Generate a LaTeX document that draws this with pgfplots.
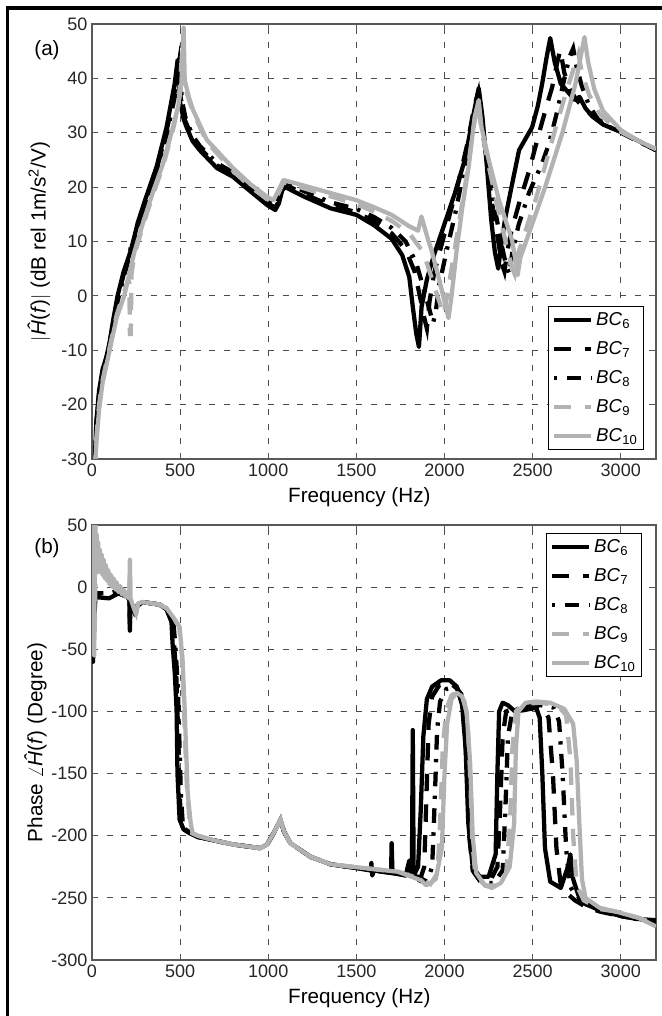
\documentclass[border=0pt]{standalone}
\usepackage{fontspec}
\setmainfont{Liberation Sans}
\usepackage{pgfplots}
\pgfplotsset{compat=1.18}

\definecolor{lgray}{gray}{0.70}
\definecolor{axgray}{gray}{0.35}

\pgfplotsset{
  frf/.style={
    scale only axis, width=423pt, height=326.25pt,
    xmin=0, xmax=3200,
    xtick={0,500,...,3000},
    xticklabels={0,500,1000,1500,2000,2500,3000},
    grid=major,
    major grid style={black!70, line width=0.7pt, dash pattern=on 4.5pt off 6.5pt},
    axis line style={axgray, line width=0.9pt},
    tick style={axgray, line width=0.8pt},
    tick align=inside,
    major tick length=4pt,
    tick label style={font=\fontsize{13.5}{15}\selectfont, text=black!85},
    label style={font=\fontsize{15.5}{17}\selectfont},
    xlabel={Frequency (Hz)},
    xlabel style={at={(axis description cs:0.474,-0.087)}, anchor=center},
    legend cell align=left,
    legend style={draw=black, line width=0.8pt, fill=white,
      font=\fontsize{14}{16}\selectfont, inner sep=2.5pt, row sep=6.5pt},
    legend image code/.code={\draw[#1] (0pt,0pt) -- (28pt,0pt);},
  },
  bc6/.style={black, line width=3.2pt, line join=round},
  bc7/.style={black, line width=3.2pt, dash pattern=on 13pt off 10pt},
  bc8/.style={black, line width=3.2pt, dash pattern=on 2.5pt off 7pt on 11pt off 7pt},
  bc9/.style={lgray, line width=3.2pt, dash pattern=on 13pt off 10pt},
  bc10/.style={lgray, line width=3.2pt, line join=round},
}

\begin{document}
\begin{tikzpicture}[x=0.75pt, y=0.75pt]
\useasboundingbox (0,0) rectangle (661,1016);
% outer frame
\draw[black, line width=2.3pt] (7.5,-2) -- (7.5,1008) -- (665,1008);

% ---------------- magnitude ----------------
\begin{axis}[frf, at={(69pt,417.75pt)}, anchor=south west,
  ymin=-30, ymax=50, ytick={-30,-20,...,50},
  yticklabels={-30,-20,-10,0,10,20,30,40,50},
  ylabel={$|$\textit{Ĥ}(\textit{f})$|$ (dB rel 1m/s\textsuperscript{2}/V)},
  ylabel style={at={(axis description cs:-0.094,0.5)}, anchor=center},
  legend style={at={(axis description cs:1,0)}, anchor=south east, xshift=-9pt, yshift=6.75pt},
]
\addplot[bc6] coordinates {
(15,-31) (25,-23) (40,-17.5) (60,-13.5) (80,-11.5) (100,-8.5) (120,-4.5) (145,0)
(180,4.5) (221,8.4) (260,13.5) (300,17.5) (366,23.7) (423,31) (469,39) (486,43.4)
(497,36) (520,32.5) (537,31) (570,28.5) (611,26.8) (709,23.5) (800,21.9) (900,19.2)
(994,16.7) (1040,15.8) (1060,17) (1080,19.5) (1097,20) (1200,18.3) (1354,16.1)
(1500,14.9) (1600,13) (1700,10.5) (1760,7.5) (1800,3.5) (1820,-2) (1840,-7)
(1855,-9.4) (1870,-2) (1900,3) (1940,7.5) (1983,11.6) (2059,18.9) (2115,25)
(2160,32.6) (2194,38.2) (2215,33) (2240,24) (2265,14) (2286,8) (2305,5) (2320,9)
(2343,14) (2380,20) (2423,26.8) (2497,31) (2530,35) (2554,39) (2580,44) (2600,47.4)
(2625,43) (2660,39) (2700,37.5) (2740,36) (2766,36.6) (2800,34.5) (2840,33)
(2900,31.5) (3011,30) (3100,28.5) (3200,26.8)};
\addlegendentry{\textit{BC}\textsubscript{6}}
\addplot[bc7] coordinates {
(15,-31) (25,-23.5) (40,-18) (60,-14) (80,-11.5) (100,-8.8) (120,-5) (145,-0.5)
(180,4) (221,8) (260,13) (300,17) (366,23.2) (423,30.3) (469,37.5) (492,42.5)
(503,36.5) (525,32.5) (570,29) (611,27.2) (709,24) (800,22.3) (900,19.7) (994,17.1)
(1040,16.2) (1060,17.4) (1082,20) (1100,20.4) (1200,18.8) (1354,16.6) (1500,15.4)
(1600,13.7) (1700,11.5) (1780,8.5) (1830,4.5) (1860,0) (1885,-4) (1900,-6)
(1915,-1) (1940,4) (1980,9) (2030,15) (2080,21) (2130,28) (2170,35) (2192,37.5)
(2212,32) (2240,25) (2270,17) (2300,11) (2325,6) (2340,4.5) (2355,8) (2380,12)
(2423,17) (2480,23) (2537,30) (2580,35) (2611,38.4) (2640,43) (2657,45.2) (2680,41)
(2710,38) (2750,36) (2800,34.3) (2840,33) (2900,31.6) (3011,30) (3100,28.4) (3200,26.8)};
\addlegendentry{\textit{BC}\textsubscript{7}}
\addplot[bc8] coordinates {
(15,-31.5) (25,-24) (40,-18.5) (60,-14.5) (80,-12) (100,-9.2) (120,-5.5) (145,-1)
(180,3.5) (215,7.5) (222,10) (230,9) (260,12.5) (300,16.5) (366,22.8) (423,29.6)
(469,36.5) (500,41.5) (510,36) (530,32.8) (570,29.5) (611,27.6) (709,24.4) (800,22.7)
(900,20.1) (994,17.5) (1040,16.6) (1060,17.8) (1084,20.4) (1100,20.8) (1200,19.3)
(1354,17.2) (1500,16) (1600,14.5) (1700,12.5) (1780,10) (1840,6) (1880,1.5)
(1910,-2) (1935,-5) (1950,-3) (1970,2) (2010,8) (2060,15) (2110,23) (2150,30)
(2180,35) (2192,36.5) (2212,31.5) (2240,25) (2280,17) (2320,10) (2350,5.5) (2368,4)
(2385,8) (2420,13) (2480,19) (2554,24.4) (2594,28.1) (2640,34) (2680,40) (2710,44)
(2730,45.5) (2750,42) (2780,38.5) (2820,35) (2870,32.5) (2950,30.8) (3050,29.2) (3200,26.8)};
\addlegendentry{\textit{BC}\textsubscript{8}}
\addplot[bc9] coordinates {
(15,-32.5) (25,-26) (40,-20) (60,-15.5) (100,-9.5) (140,-3.5) (180,0.5) (205,3)
(212,2.4) (215,-7) (220,-7) (224,4) (240,7.5) (290,13) (350,19) (400,23.5)
(459,30.5) (490,35) (512,45) (522,39) (550,36) (573,33.8) (651,28.3) (800,23)
(900,20) (994,17.8) (1029,17.2) (1060,19) (1086,20.9) (1200,19.8) (1354,18.3)
(1500,16.9) (1600,15.5) (1700,13.8) (1800,11.5) (1880,8) (1930,3) (1970,-1)
(1995,-3.5) (2015,0) (2050,7) (2090,15) (2130,23) (2165,31) (2190,35.5) (2210,30.5)
(2250,24) (2300,16.5) (2350,9.5) (2385,5) (2398,4) (2415,7.5) (2460,12) (2520,18)
(2580,25) (2640,32) (2700,38.5) (2740,42.5) (2760,44.5) (2780,41) (2820,37)
(2880,33.5) (2980,30.5) (3100,28.5) (3200,27)};
\addlegendentry{\textit{BC}\textsubscript{9}}
\addplot[bc10] coordinates {
(15,-33) (25,-27) (40,-21) (60,-16) (100,-10) (140,-4) (183,0) (240,8) (290,13.5)
(350,19.5) (400,24) (459,31) (490,35) (507,39) (520,49.3) (526,39.7) (550,36.5)
(573,34.2) (651,28.7) (800,23.5) (900,20.5) (994,18.2) (1029,17.6) (1060,19.5)
(1086,21.3) (1200,20.3) (1354,18.9) (1500,17.6) (1600,16.3) (1700,14.9) (1800,12.8)
(1850,12) (1869,14.6) (1907,10.3) (1926,8.4) (1970,3) (2000,-1) (2023,-4.1)
(2040,0) (2069,8.4) (2100,16) (2137,23.7) (2171,32.9) (2194,36) (2210,31)
(2251,25) (2309,17.6) (2383,10.3) (2400,7) (2415,3.8) (2430,7) (2480,11.6)
(2571,20) (2669,30) (2743,39) (2794,47.6) (2815,43) (2850,38) (2900,34) (3000,30.5)
(3100,28.5) (3200,27)};
\addlegendentry{\textit{BC}\textsubscript{10}}
\end{axis}
\node[font=\fontsize{15.5}{17}\selectfont] at (47,966) {(a)};

% ---------------- phase ----------------
\begin{axis}[frf, at={(69pt,42pt)}, anchor=south west,
  ymin=-300, ymax=50, ytick={-300,-250,...,50},
  yticklabels={-300,-250,-200,-150,-100,-50,0,50},
  ylabel={Phase $\angle$\textit{Ĥ}(\textit{f}) (Degree)},
  ylabel style={at={(axis description cs:-0.1,0.5)}, anchor=center},
  legend style={at={(axis description cs:1,1)}, anchor=north east, xshift=-10.5pt, yshift=-6pt},
]
\addplot[bc6] coordinates {
(3,-30) (6,-60) (10,-30) (20,-8) (97,-9) (150,-5) (200,-8) (212,-10) (215,-35)
(218,-12) (240,-20) (260,-15) (286,-12) (383,-14) (423,-18) (451,-28) (457,-45)
(470,-70) (480,-99) (485,-150) (497,-187) (520,-195) (554,-198) (600,-201) (700,-204)
(800,-207) (954,-210) (994,-207) (1030,-198) (1069,-187) (1090,-197) (1126,-206)
(1240,-217) (1354,-223) (1500,-226) (1583,-228) (1585,-222) (1590,-232) (1600,-228)
(1697,-230) (1700,-206) (1705,-230) (1780,-232) (1800,-220) (1815,-232) (1820,-115)
(1825,-232) (1850,-225) (1865,-180) (1880,-120) (1900,-90) (1930,-80) (1980,-75)
(2030,-75) (2070,-80) (2100,-95) (2120,-130) (2135,-190) (2160,-225) (2200,-233)
(2250,-233) (2290,-215) (2300,-150) (2310,-100) (2330,-93) (2360,-95) (2400,-100)
(2450,-99) (2520,-97) (2540,-105) (2555,-150) (2570,-210) (2600,-237) (2660,-242)
(2700,-225) (2714,-215) (2730,-235) (2760,-248) (2800,-255) (2880,-260) (3011,-265)
(3100,-267) (3200,-268)};
\addlegendentry{\textit{BC}\textsubscript{6}}
\addplot[bc7] coordinates {
(3,-25) (6,-45) (10,-20) (20,-6) (97,-6) (150,-4) (200,-7) (212,-10) (215,-30)
(218,-12) (240,-20) (260,-14) (286,-12) (383,-14) (423,-17.5) (455,-27) (465,-45)
(478,-70) (487,-110) (495,-160) (505,-188) (530,-195) (560,-198) (600,-201) (700,-204)
(800,-207) (954,-210) (994,-207) (1030,-198) (1069,-187) (1090,-197) (1126,-206)
(1240,-217) (1354,-223) (1500,-226) (1650,-229) (1750,-231) (1820,-233) (1860,-236)
(1885,-225) (1897,-170) (1910,-110) (1930,-88) (1970,-79) (2030,-77) (2075,-82)
(2105,-97) (2125,-140) (2140,-200) (2160,-228) (2200,-236) (2260,-236) (2300,-225)
(2315,-180) (2330,-120) (2350,-100) (2400,-97) (2480,-96) (2560,-97) (2590,-105)
(2615,-150) (2635,-210) (2660,-240) (2700,-247) (2740,-252) (2800,-257) (2880,-261)
(3011,-265) (3200,-269)};
\addlegendentry{\textit{BC}\textsubscript{7}}
\addplot[bc8] coordinates {
(3,-20) (6,-35) (10,-15) (20,-5) (97,-5) (150,-3) (200,-6) (212,-9) (215,-25)
(218,-11) (240,-19) (260,-14) (286,-12) (383,-14) (423,-17) (460,-26) (472,-45)
(487,-80) (495,-120) (505,-170) (515,-190) (540,-196) (565,-198) (600,-201) (700,-204)
(800,-207) (954,-210) (994,-207) (1030,-198) (1069,-187) (1090,-197) (1126,-206)
(1240,-217) (1354,-223) (1500,-226) (1650,-229) (1760,-231) (1850,-233) (1900,-237)
(1930,-225) (1945,-170) (1958,-115) (1975,-92) (2010,-82) (2060,-80) (2095,-86)
(2115,-100) (2135,-140) (2150,-200) (2170,-230) (2210,-238) (2280,-238) (2330,-228)
(2345,-180) (2360,-120) (2385,-100) (2450,-96) (2550,-95) (2620,-97) (2650,-108)
(2670,-150) (2690,-210) (2710,-240) (2750,-250) (2800,-255) (2880,-259) (3011,-265)
(3200,-270)};
\addlegendentry{\textit{BC}\textsubscript{8}}
\addplot[bc9] coordinates {
(5,30) (10,20) (15,-40) (20,10) (40,20) (60,14) (80,8) (100,5) (140,0) (200,-7)
(212,-8) (215,15) (218,-9) (250,-21) (262,-13) (286,-12) (383,-14) (423,-17)
(460,-24) (495,-32) (510,-55) (522,-99) (538,-160) (555,-190) (568,-198) (600,-200)
(700,-204) (800,-207) (954,-210) (994,-207) (1030,-198) (1069,-187) (1090,-197)
(1126,-206) (1240,-217) (1354,-223) (1543,-226) (1737,-229) (1869,-235) (1920,-239)
(1960,-230) (1975,-190) (1990,-130) (2010,-98) (2040,-87) (2080,-84) (2110,-90)
(2130,-105) (2145,-150) (2158,-205) (2175,-232) (2230,-240) (2300,-240) (2350,-230)
(2372,-190) (2385,-130) (2405,-100) (2450,-94) (2540,-93) (2640,-95) (2690,-103)
(2715,-140) (2730,-200) (2750,-240) (2790,-252) (2880,-259) (2971,-261) (3100,-266)
(3200,-271)};
\addlegendentry{\textit{BC}\textsubscript{9}}
\addplot[bc10] coordinates {
(2,0) (4,50) (7,20) (10,45) (13,-55) (16,30) (20,50) (23,15) (27,42) (31,12)
(35,36) (40,14) (45,30) (50,12) (55,26) (60,10) (66,22) (72,7) (78,18) (85,5)
(92,14) (100,2) (108,10) (116,0) (124,7) (132,-2) (140,4) (150,-4) (160,1)
(170,-6) (180,-2) (190,-8) (200,-4) (208,-9) (212,-8) (215,22) (218,-9) (250,-22)
(262,-13) (286,-12) (383,-14) (423,-17) (460,-24) (497,-32) (514,-59) (526,-99)
(543,-166) (560,-190) (571,-198) (600,-200) (700,-204) (800,-207) (954,-210)
(994,-207) (1030,-198) (1069,-187) (1090,-197) (1126,-206) (1240,-217) (1354,-223)
(1543,-226) (1737,-229) (1869,-236) (1897,-240) (1950,-235) (1985,-210) (2000,-150)
(2015,-110) (2040,-90) (2070,-85) (2100,-88) (2125,-100) (2145,-140) (2160,-200)
(2180,-230) (2230,-240) (2269,-242) (2320,-238) (2370,-225) (2395,-190) (2405,-130)
(2420,-100) (2460,-93) (2520,-92) (2600,-93) (2680,-98) (2730,-110) (2750,-140)
(2765,-190) (2780,-235) (2800,-250) (2880,-258) (2971,-261) (3100,-266) (3200,-273)};
\addlegendentry{\textit{BC}\textsubscript{10}}
\end{axis}
\node[font=\fontsize{15.5}{17}\selectfont] at (47,468) {(b)};
\end{tikzpicture}
\end{document}
